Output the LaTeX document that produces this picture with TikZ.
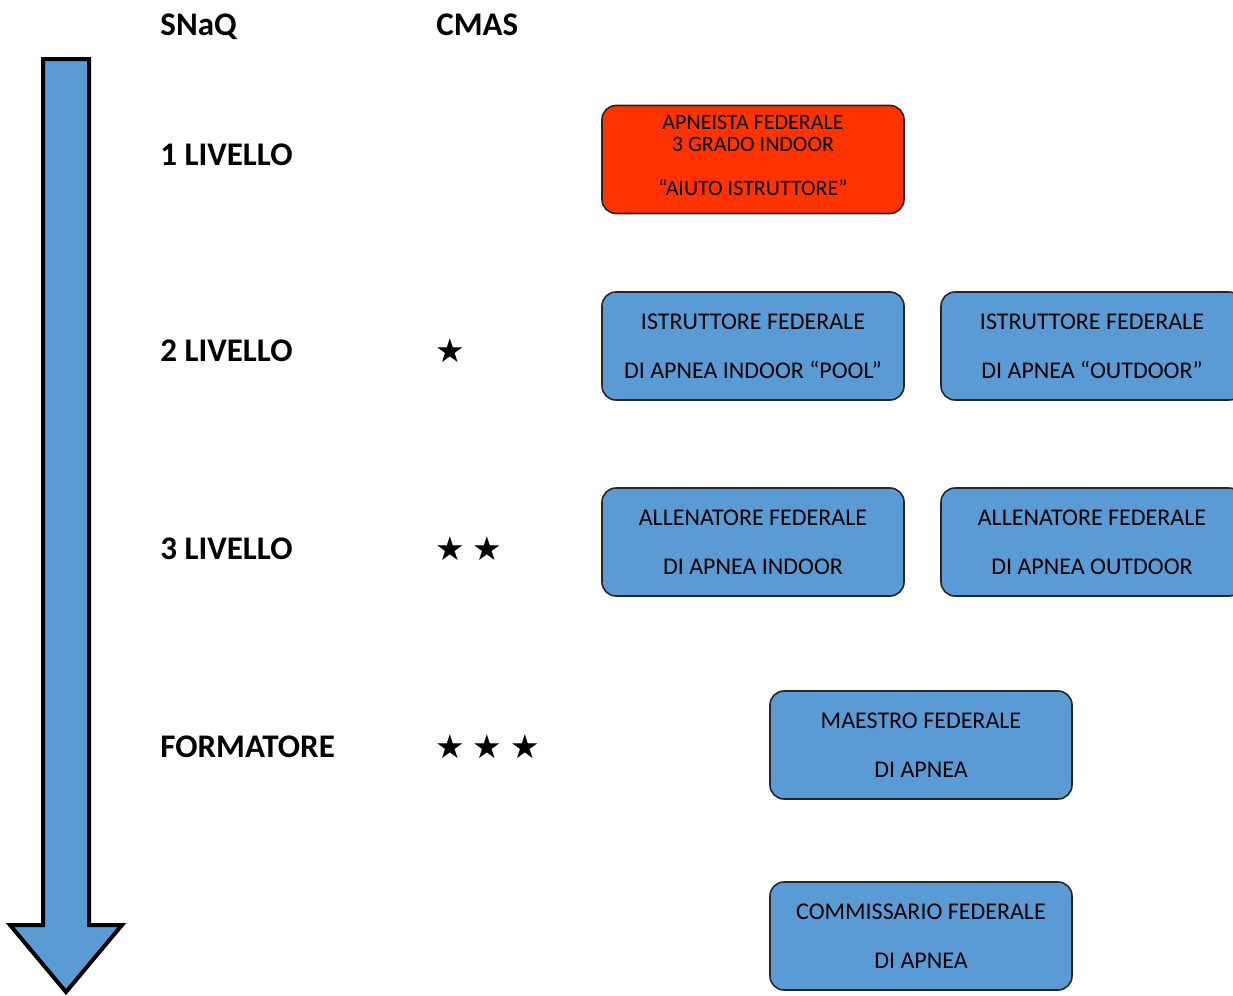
\documentclass[tikz,border=0pt]{standalone}
\usepackage{fontspec}
\setmainfont{Carlito}
\newfontfamily\starfont{DejaVu Sans}
\usepackage{xcolor}
\definecolor{boxblue}{RGB}{91,155,213}
\definecolor{boxred}{RGB}{255,51,0}

\begin{document}
\begin{tikzpicture}[x=0.5pt,y=-0.5pt,
  level/.style={anchor=base west,inner sep=0pt,font=\fontsize{16.5}{16.5}\selectfont\bfseries},
  stars/.style={anchor=west,inner sep=0pt,font=\fontsize{16.5}{16.5}\starfont},
  course/.style={draw=black!85,line width=0.8pt,rounded corners=7pt,fill=boxblue,
    minimum width=151pt,minimum height=54pt,inner sep=0pt,align=center,
    font=\fontsize{12}{24.5}\selectfont}]
  \useasboundingbox (0,0) rectangle (1233,996);
  \clip (0,0) rectangle (1233,996);
  % direction arrow
  \draw[line width=2pt,fill=boxblue] (43,59) -- (89,59) -- (89,925) -- (122,925)
    -- (66,992) -- (10,925) -- (43,925) -- cycle;
  % column heads
  \node[level] (snaq) at (160,35.5) {SNaQ};
  \node[level] (cmas) at (436,35.5) {CMAS};
  % levels
  \node[level] (liv1) at (160,165.5) {1 LIVELLO};
  \node[level] (liv2) at (160,361.5) {2 LIVELLO};
  \node[level] (liv3) at (160,559.5) {3 LIVELLO};
  \node[level] (form) at (160,757.5) {FORMATORE};
  \node[stars] (star1) at (435,351) {★};
  \node[stars] (star2) at (435,549) {★\hspace{4pt}★};
  \node[stars] (star3) at (435,747) {★\hspace{4pt}★\hspace{4pt}★};
  % courses
  \node[course,fill=boxred,font=\fontsize{11}{11}\selectfont,text depth=4pt] (aiuto) at (753,159.5)
    {APNEISTA FEDERALE\\3 GRADO INDOOR\\[11pt]“AIUTO ISTRUTTORE”};
  \node[course] (istrpool) at (753,346) {ISTRUTTORE FEDERALE\\DI APNEA INDOOR “POOL”};
  \node[course] (istrout) at (1092,346) {ISTRUTTORE FEDERALE\\DI APNEA “OUTDOOR”};
  \node[course] (allind) at (753,542) {ALLENATORE FEDERALE\\DI APNEA INDOOR};
  \node[course] (allout) at (1092,542) {ALLENATORE FEDERALE\\DI APNEA OUTDOOR};
  \node[course] (maestro) at (921,745) {MAESTRO FEDERALE\\DI APNEA};
  \node[course] (comm) at (921,936) {COMMISSARIO FEDERALE\\DI APNEA};
\end{tikzpicture}
\end{document}
